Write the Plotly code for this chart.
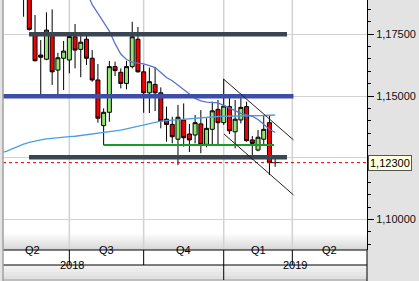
import plotly.graph_objects as go

# ---- data (weekly candles, index 0 = first week of Q3 2018) ----
week_idx = list(range(-8, 36))
opens  = [1.1960, 1.1925, 1.1745, 1.1666, 1.1649, 1.1745, 1.1605, 1.1653, 1.1646, 1.1740, 1.1689,
          1.1730, 1.1653, 1.1565, 1.1380, 1.1434, 1.1619, 1.1596, 1.1551, 1.1619, 1.1730, 1.1598,
          1.1513, 1.1547, 1.1513, 1.1406, 1.1385, 1.1325, 1.1403, 1.1346, 1.1342, 1.1387, 1.1304,
          1.1365, 1.1446, 1.1392, 1.1457, 1.1355, 1.1403, 1.1457, 1.1322, 1.1281, 1.1325, 1.1392]
highs  = [1.2000, 1.1955, 1.1828, 1.1727, 1.1839, 1.1851, 1.1675, 1.1723, 1.1759, 1.1792, 1.1747,
          1.1756, 1.1686, 1.1630, 1.1450, 1.1642, 1.1639, 1.1612, 1.1642, 1.1801, 1.1780, 1.1626,
          1.1615, 1.1618, 1.1535, 1.1457, 1.1416, 1.1464, 1.1470, 1.1387, 1.1423, 1.1443, 1.1410,
          1.1477, 1.1484, 1.1569, 1.1497, 1.1484, 1.1500, 1.1477, 1.1338, 1.1362, 1.1423, 1.1423]
lows   = [1.1821, 1.1765, 1.1640, 1.1508, 1.1645, 1.1545, 1.1508, 1.1524, 1.1592, 1.1612, 1.1576,
          1.1626, 1.1558, 1.1392, 1.1301, 1.1396, 1.1581, 1.1531, 1.1527, 1.1612, 1.1595, 1.1432,
          1.1431, 1.1439, 1.1369, 1.1315, 1.1308, 1.1220, 1.1295, 1.1273, 1.1308, 1.1268, 1.1292,
          1.1301, 1.1297, 1.1383, 1.1346, 1.1288, 1.1389, 1.1315, 1.1241, 1.1276, 1.1301, 1.1180]
closes = [1.1925, 1.1770, 1.1643, 1.1657, 1.1767, 1.1598, 1.1655, 1.1682, 1.1741, 1.1686, 1.1718,
          1.1653, 1.1565, 1.1410, 1.1434, 1.1619, 1.1603, 1.1551, 1.1619, 1.1740, 1.1598, 1.1513,
          1.1558, 1.1513, 1.1399, 1.1385, 1.1335, 1.1414, 1.1331, 1.1322, 1.1392, 1.1304, 1.1369,
          1.1440, 1.1392, 1.1459, 1.1359, 1.1406, 1.1454, 1.1319, 1.1308, 1.1333, 1.1365, 1.1230]

# moving averages
ma_short_idx = list(range(3, 37))
ma_short = [1.1925, 1.1870, 1.1835, 1.1800, 1.1763, 1.1712, 1.1670, 1.1648, 1.1637, 1.1633, 1.1630,
            1.1623, 1.1615, 1.1595, 1.1575, 1.1562, 1.1545, 1.1528, 1.1508, 1.1490, 1.1480, 1.1475,
            1.1474, 1.1472, 1.1462, 1.1452, 1.1442, 1.1430, 1.1424, 1.1418, 1.1405, 1.1385, 1.1365,
            1.1352]
ma_long_idx = list(range(-12, 37))
ma_long = [1.1270, 1.1276, 1.1286, 1.1297, 1.1305, 1.1312, 1.1318, 1.1322, 1.1326, 1.1329, 1.1331,
           1.1333, 1.1335, 1.1337, 1.1340, 1.1343, 1.1346, 1.1348, 1.1351, 1.1354, 1.1358, 1.1362,
           1.1367, 1.1372, 1.1378, 1.1383, 1.1388, 1.1393, 1.1398, 1.1400, 1.1402, 1.1404, 1.1406,
           1.1408, 1.1411, 1.1414, 1.1416, 1.1417, 1.1417, 1.1418, 1.1418, 1.1419, 1.1419, 1.1420,
           1.1420, 1.1421, 1.1421, 1.1422, 1.1423]

# drawn levels
top_band = dict(y=1.1750, x0=-7.05, x1=38.07)
mid_band = dict(y=1.1499, x0=-11.6, x1=39.2)
low_band = dict(y=1.1252, x0=-7.05, x1=38.07)
support = dict(y=1.1301, x0=6, x1=35.8)
channel_upper = dict(x0=26.95, y0=1.1569, x1=39.2, y1=1.1322)
channel_lower = dict(x0=27.05, y0=1.1346, x1=39.2, y1=1.1099)
last_price = 1.1230
last_price_text = "1,12300"

quarter_bounds = [0, 13, 27, 39]
quarter_labels = ["Q2", "Q3", "Q4", "Q1", "Q2"]
quarter_label_pos = [-6.5, 6.5, 20, 33, 45.5]
year_bounds = [27]
year_labels = ["2018", "2019"]
year_label_pos = [0.5, 39.5]

y_ticks = [1.100, 1.125, 1.150, 1.175]
y_ticktext = ["1,10000", "", "1,15000", "1,17500"]

X_RANGE = [-11.6, 52.06]
Y_RANGE = [1.08760, 1.18890]
FONT = "Liberation Sans"

fig = go.Figure()
fig.add_trace(go.Candlestick(
    x=week_idx, open=opens, high=highs, low=lows, close=closes,
    increasing=dict(fillcolor="#92e474", line=dict(color="black", width=1)),
    decreasing=dict(fillcolor="#f00000", line=dict(color="black", width=1)),
    whiskerwidth=0, showlegend=False, hoverinfo="skip"))
fig.add_trace(go.Scatter(x=ma_long_idx, y=ma_long, mode="lines",
                         line=dict(color="#4d9ee0", width=1.3), showlegend=False, hoverinfo="skip"))
fig.add_trace(go.Scatter(x=ma_short_idx, y=ma_short, mode="lines",
                         line=dict(color="#5f72c8", width=1.3), showlegend=False, hoverinfo="skip"))
fig.add_trace(go.Scatter(x=[36], y=[last_price], mode="markers",
                         marker=dict(symbol="cross-thin", size=6, line=dict(color="black", width=1)),
                         showlegend=False, hoverinfo="skip"))

shapes = []
# bottom gradient inside plot
grad = ["#fbfbfb", "#f6f6f6", "#f1f1f1", "#ececec", "#e7e7e7", "#e2e2e2", "#dddddd", "#d8d8d8"]
n = len(grad)
for i, c in enumerate(grad):
    y1 = 0.064 * (n - i) / n
    y0 = 0.064 * (n - i - 1) / n
    shapes.append(dict(type="rect", xref="paper", yref="paper", x0=0, x1=1, y0=y0, y1=y1,
                       fillcolor=c, line=dict(width=0), layer="below"))
# vertical quarter gridlines
for q in quarter_bounds:
    shapes.append(dict(type="line", xref="x", yref="paper", x0=q, x1=q, y0=0, y1=1,
                       line=dict(color="#d2d2d2", width=1.5), layer="below"))
# bands and lines
for b, col in [(top_band, "#3a4552"), (mid_band, "#3c4ea8"), (low_band, "#3a4552")]:
    shapes.append(dict(type="line", xref="x", yref="y", x0=b["x0"], x1=b["x1"], y0=b["y"], y1=b["y"],
                       line=dict(color=col, width=4.5), layer="above"))
shapes.append(dict(type="line", xref="paper", yref="y", x0=0, x1=1, y0=last_price, y1=last_price,
                   line=dict(color="#e00000", width=1, dash="dot"), layer="above"))
shapes.append(dict(type="line", xref="x", yref="y", x0=support["x0"], x1=support["x1"],
                   y0=support["y"], y1=support["y"], line=dict(color="#1b9a2b", width=2), layer="above"))
for ch in (channel_upper, channel_lower):
    shapes.append(dict(type="line", xref="x", yref="y", x0=ch["x0"], x1=ch["x1"], y0=ch["y0"], y1=ch["y1"],
                       line=dict(color="#222222", width=1), layer="above"))

# x-axis band area (below plot)
Q_BOT = -0.06
Y_BOT = -0.12
shapes.append(dict(type="rect", xref="paper", yref="paper", x0=0, x1=1, y0=Q_BOT, y1=0,
                   fillcolor="white", line=dict(width=0)))
ygrad = ["#f2f2f2", "#ececec", "#e6e6e6", "#dfdfdf"]
for i, c in enumerate(ygrad):
    y1 = Q_BOT + (Y_BOT - Q_BOT) * i / len(ygrad)
    y0 = Q_BOT + (Y_BOT - Q_BOT) * (i + 1) / len(ygrad)
    shapes.append(dict(type="rect", xref="paper", yref="paper", x0=0, x1=1, y0=y0, y1=y1,
                       fillcolor=c, line=dict(width=0)))
for yy, col in [(0, "black"), (Q_BOT, "black"), (Y_BOT, "#9a9a9a")]:
    shapes.append(dict(type="line", xref="paper", yref="paper", x0=0, x1=1, y0=yy, y1=yy,
                       line=dict(color=col, width=1)))
for q in quarter_bounds:
    shapes.append(dict(type="line", xref="x", yref="paper", x0=q, x1=q, y0=Q_BOT, y1=0,
                       line=dict(color="black", width=1)))
for yb in year_bounds:
    shapes.append(dict(type="line", xref="x", yref="paper", x0=yb, x1=yb, y0=Y_BOT, y1=Q_BOT,
                       line=dict(color="black", width=1)))
shapes.append(dict(type="line", xref="paper", yref="paper", x0=0, x1=0, y0=-0.124, y1=1,
                   line=dict(color="#a0a0a0", width=1.5)))
shapes.append(dict(type="line", xref="paper", yref="paper", x0=1, x1=1, y0=-0.124, y1=0,
                   line=dict(color="black", width=1)))

annotations = []
for lab, pos in zip(quarter_labels, quarter_label_pos):
    annotations.append(dict(x=pos, y=Q_BOT / 2, xref="x", yref="paper", text=lab, showarrow=False,
                            font=dict(family=FONT, size=11, color="black")))
for lab, pos in zip(year_labels, year_label_pos):
    annotations.append(dict(x=pos, y=(Q_BOT + Y_BOT) / 2, xref="x", yref="paper", text=lab, showarrow=False,
                            font=dict(family=FONT, size=11, color="black")))
annotations.append(dict(x=1.003, y=last_price, xref="paper", yref="y", xanchor="left", yanchor="middle",
                        text=last_price_text, showarrow=False, bgcolor="#ffffe1", bordercolor="#555555",
                        borderwidth=1, borderpad=1, font=dict(family=FONT, size=11, color="black")))

fig.update_layout(
    width=419, height=281, margin=dict(l=3, r=52, t=0, b=31, pad=0),
    paper_bgcolor="#e3e3e3", plot_bgcolor="white", showlegend=False,
    boxgap=0.3, boxgroupgap=0,
    xaxis=dict(range=X_RANGE, showgrid=False, zeroline=False, showticklabels=False, ticks="",
               showline=False, rangeslider=dict(visible=False), fixedrange=True),
    yaxis=dict(range=Y_RANGE, side="right", tickmode="array", tickvals=y_ticks, ticktext=y_ticktext,
               showgrid=True, gridcolor="#d2d2d2", gridwidth=1, zeroline=False,
               ticks="outside", ticklen=6, tickcolor="black", showline=True, linecolor="black",
               tickfont=dict(family=FONT, size=11, color="#111111"),
               minor=dict(tickmode="linear", tick0=1.1, dtick=0.005, ticks="outside", ticklen=3,
                          tickcolor="black", showgrid=False),
               fixedrange=True),
    shapes=shapes, annotations=annotations,
)
fig.write_html("out.html")
